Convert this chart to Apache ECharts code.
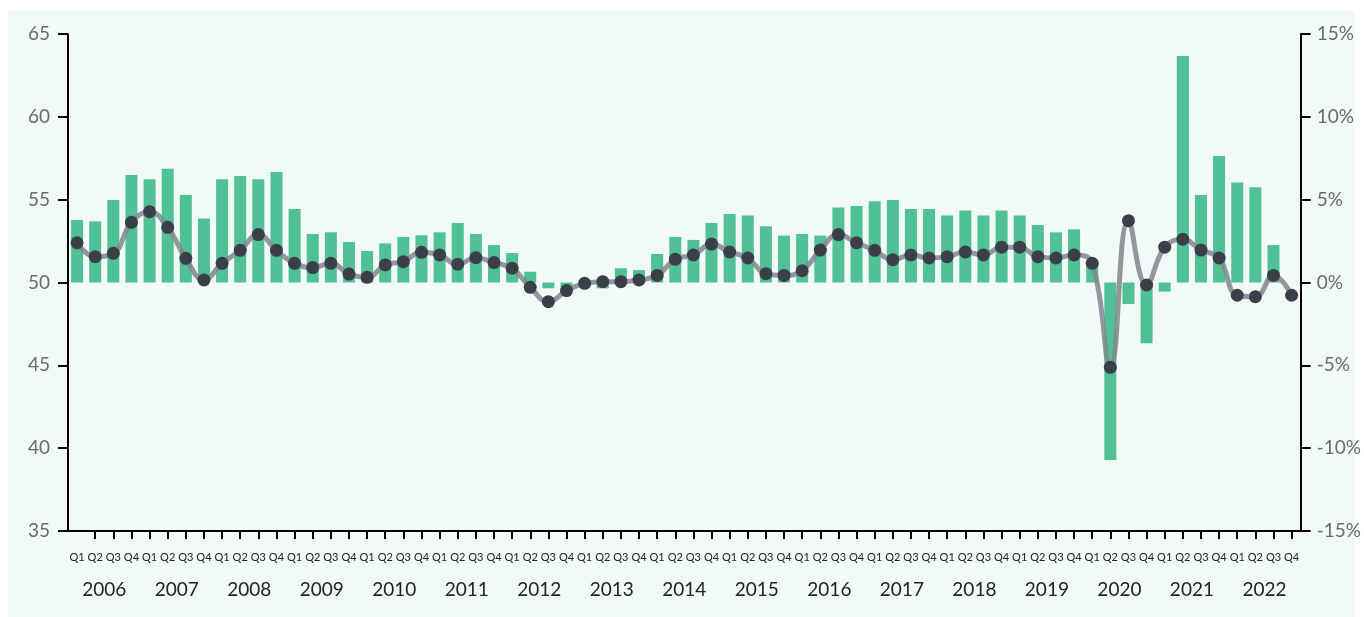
<!DOCTYPE html>
<html>
<head>
<meta charset="utf-8">
<script src="https://cdn.jsdelivr.net/npm/echarts@6/dist/echarts.min.js"></script>
<style>
  html, body { margin: 0; padding: 0; background: #ffffff; }
  #bg { position: absolute; left: 8px; top: 11px; width: 1347px; height: 606px; background: #f1faf7; }
  #chart { position: absolute; left: 0; top: 0; width: 1364px; height: 617px; }
</style>
</head>
<body>
<div id="bg"></div>
<div id="chart"></div>
<script>
const years = ['2006','2007','2008','2009','2010','2011','2012','2013','2014','2015','2016','2017','2018','2019','2020','2021','2022'];
const quarterNames = ['Q1','Q2','Q3','Q4'];

// bar series: growth rate (%), right axis
const growth = [
  3.77, 3.69, 4.98, 6.49,
  6.23, 6.87, 5.28, 3.87,
  6.23, 6.43, 6.23, 6.67,
  4.44, 2.93, 3.03, 2.44,
  1.90, 2.36, 2.75, 2.85,
  3.03, 3.59, 2.93, 2.26,
  1.78, 0.65, -0.35, -0.30,
  -0.30, -0.35, 0.86, 0.75,
  1.72, 2.75, 2.57, 3.59,
  4.13, 4.05, 3.39, 2.83,
  2.93, 2.83, 4.52, 4.62,
  4.90, 4.98, 4.44, 4.44,
  4.05, 4.34, 4.05, 4.34,
  4.05, 3.47, 3.03, 3.21,
  1.30, -10.71, -1.30, -3.67,
  -0.55, 13.67, 5.28, 7.64,
  6.03, 5.75, 2.26, 0
];

// line series: index, left axis
const indexValues = [
  52.40, 51.56, 51.76, 53.63,
  54.27, 53.33, 51.46, 50.15,
  51.16, 51.94, 52.89, 51.94,
  51.16, 50.90, 51.16, 50.51,
  50.31, 51.06, 51.26, 51.82,
  51.66, 51.10, 51.50, 51.20,
  50.86, 49.71, 48.84, 49.51,
  49.95, 50.05, 50.05, 50.15,
  50.43, 51.40, 51.66, 52.32,
  51.84, 51.48, 50.53, 50.43,
  50.71, 51.96, 52.89, 52.40,
  51.94, 51.38, 51.66, 51.48,
  51.56, 51.84, 51.66, 52.13,
  52.13, 51.56, 51.48, 51.66,
  51.16, 44.88, 53.73, 49.85,
  52.13, 52.61, 51.96, 51.48,
  49.23, 49.14, 50.43, 49.23
];

const leftTicks = { min: 35, max: 65, interval: 5 };
const rightTicks = { min: -15, max: 15, interval: 5 };

const quarters = [];
years.forEach(y => quarterNames.forEach(q => quarters.push(q)));

const FONT = 'Lato, "Open Sans", sans-serif';
const chart = echarts.init(document.getElementById('chart'), null, { renderer: 'canvas' });

chart.setOption({
  backgroundColor: 'transparent',
  animation: false,
  grid: { left: 68, right: 63, top: 34, bottom: 86, containLabel: false },
  xAxis: [
    {
      type: 'category',
      data: quarters,
      position: 'bottom',
      axisLine: { show: true, onZero: false, lineStyle: { color: '#000', width: 2 } },
      axisTick: { show: true, alignWithLabel: true, length: 8, interval: (i) => i !== 0, lineStyle: { color: '#000', width: 2 } },
      axisLabel: { interval: 0, fontSize: 11, color: '#222', margin: 21, fontFamily: FONT },
      splitLine: { show: false }
    },
    {
      type: 'category',
      data: years,
      position: 'bottom',
      axisLine: { show: false, onZero: false },
      axisTick: { show: false },
      axisLabel: { interval: 0, fontSize: 19, color: '#222', margin: 49, fontFamily: FONT },
      splitLine: { show: false }
    }
  ],
  yAxis: [
    {
      type: 'value',
      position: 'left',
      min: leftTicks.min, max: leftTicks.max, interval: leftTicks.interval,
      axisLine: { show: true, lineStyle: { color: '#000', width: 2 } },
      axisTick: { show: true, length: 10, lineStyle: { color: '#000', width: 2 } },
      axisLabel: { fontSize: 19, color: '#6b6b6b', margin: 18, fontFamily: FONT },
      splitLine: { show: false }
    },
    {
      type: 'value',
      position: 'right',
      min: rightTicks.min, max: rightTicks.max, interval: rightTicks.interval,
      axisLine: { show: true, lineStyle: { color: '#000', width: 2 } },
      axisTick: { show: true, length: 10, lineStyle: { color: '#000', width: 2 } },
      axisLabel: { fontSize: 19, color: '#6b6b6b', margin: 16, formatter: '{value}%', fontFamily: FONT },
      splitLine: { show: false }
    }
  ],
  series: [
    {
      type: 'bar',
      name: 'growth',
      xAxisIndex: 0,
      yAxisIndex: 1,
      data: growth,
      barWidth: 12,
      itemStyle: { color: '#4fc194' },
      z: 2
    },
    {
      type: 'line',
      name: 'index',
      xAxisIndex: 0,
      yAxisIndex: 0,
      data: indexValues,
      smooth: 0.45,
      symbol: 'circle',
      symbolSize: 13,
      lineStyle: { color: 'rgba(130,133,139,0.85)', width: 5 },
      itemStyle: { color: '#3b3f49' },
      z: 3
    }
  ]
});
</script>
</body>
</html>
